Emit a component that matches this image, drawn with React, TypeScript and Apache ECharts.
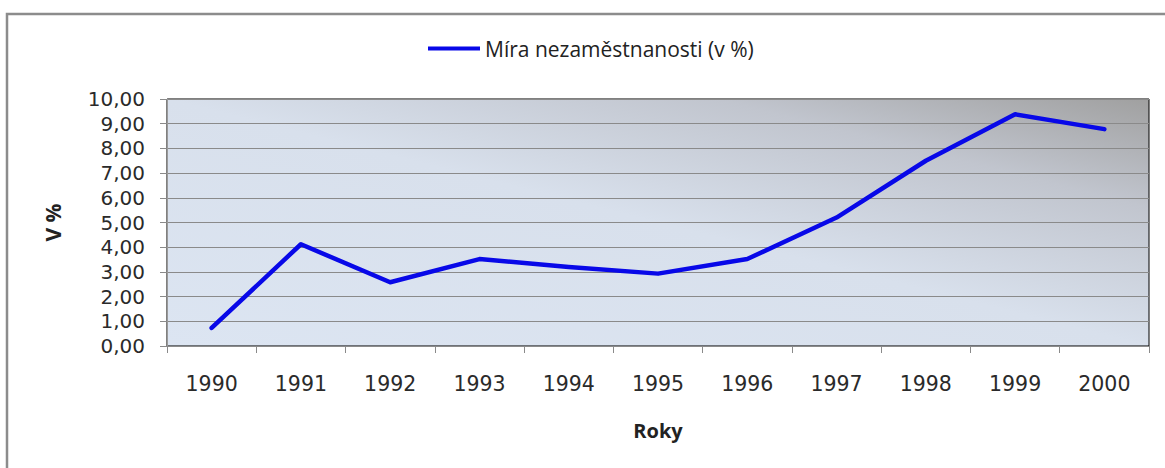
import React, { useEffect, useRef } from "react";
import * as echarts from "echarts";

const years = ["1990", "1991", "1992", "1993", "1994", "1995", "1996", "1997", "1998", "1999", "2000"];
const unemployment = [0.73, 4.12, 2.58, 3.52, 3.2, 2.93, 3.52, 5.2, 7.5, 9.38, 8.78];
const seriesName = "Míra nezaměstnanosti (v %)";
const yAxisTitle = "V %";
const xAxisTitle = "Roky";

const FONT = "Open Sans";
const NUM_FONT = "DejaVu Sans";

export default function App() {
  const ref = useRef<HTMLDivElement>(null);
  useEffect(() => {
    if (!ref.current) return;
    const chart = echarts.init(ref.current, undefined, { renderer: "svg" });
    chart.setOption({
      animation: false,
      backgroundColor: "#ffffff",
      textStyle: { fontFamily: FONT },
      graphic: [
        {
          type: "rect",
          shape: { x: 7, y: 14, width: 1200, height: 500 },
          style: { fill: "none", stroke: "#8c8c8c", lineWidth: 2.5 },
          silent: true,
        },
      ],
      legend: {
        left: 428,
        top: 38,
        padding: 0,
        icon: "rect",
        itemWidth: 52,
        itemHeight: 4,
        itemGap: 5,
        textStyle: { fontFamily: FONT, fontSize: 21, color: "#222" },
        data: [seriesName],
      },
      grid: {
        left: 167,
        right: 16,
        top: 99,
        bottom: 122,
        show: true,
        borderColor: "#000",
        borderWidth: 1,
        backgroundColor: new echarts.graphic.LinearGradient(0, 1, 1, 0, [
          { offset: 0, color: "#dce5f2" },
          { offset: 0.5, color: "#d8e0ec" },
          { offset: 0.78, color: "#c1c5ce" },
          { offset: 1, color: "#a0a0a0" },
        ]),
      },
      xAxis: {
        type: "category",
        data: years,
        boundaryGap: true,
        name: xAxisTitle,
        nameLocation: "middle",
        nameGap: 74,
        nameTextStyle: { fontFamily: FONT, fontSize: 20, fontWeight: "bold", color: "#222" },
        axisLine: { show: true, lineStyle: { color: "#8a8a8a", width: 1 } },
        axisTick: { show: true, inside: false, length: 7, alignWithLabel: false, lineStyle: { color: "#8a8a8a" } },
        axisLabel: { margin: 27, fontFamily: NUM_FONT, fontSize: 20.5, color: "#2a2a2a" },
        splitLine: { show: false },
      },
      yAxis: {
        type: "value",
        min: 0,
        max: 10,
        interval: 1,
        name: yAxisTitle,
        nameLocation: "middle",
        nameRotate: 90,
        nameGap: 104,
        nameTextStyle: { fontFamily: FONT, fontSize: 21, fontWeight: "bold", color: "#222" },
        axisLine: { show: true, lineStyle: { color: "#9a9a9a", width: 1 } },
        axisTick: { show: true, length: 7, lineStyle: { color: "#8a8a8a" } },
        axisLabel: {
          margin: 22,
          fontFamily: NUM_FONT,
          fontSize: 20,
          color: "#2a2a2a",
          formatter: (v: number) => v.toFixed(2).replace(".", ","),
        },
        splitLine: { show: true, lineStyle: { color: "#8a8a8a", width: 1 } },
      },
      series: [
        {
          name: seriesName,
          type: "line",
          data: unemployment,
          symbol: "none",
          lineStyle: { color: "#0808e8", width: 4.5, join: "round", cap: "round" },
          itemStyle: { color: "#0808e8" },
        },
      ],
    });
    return () => chart.dispose();
  }, []);
  return (
    <div
      ref={ref}
      style={{ position: "absolute", left: 0, top: 0, width: 1165, height: 468 }}
    />
  );
}
